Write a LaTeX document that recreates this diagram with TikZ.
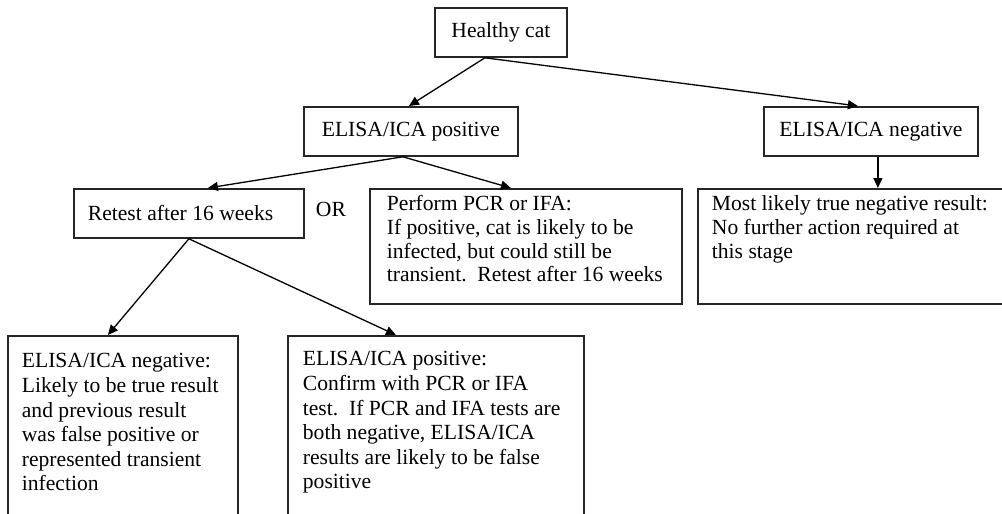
\documentclass[tikz,border=0pt]{standalone}
\usepackage{fontspec}
\setmainfont{Liberation Serif}
\usetikzlibrary{arrows.meta}

\begin{document}
\begin{tikzpicture}[x=.5pt,y=-.5pt,>={Triangle[length=5pt,width=4.5pt]},line width=.65pt,
  font=\fontsize{10.8}{11.8}\selectfont,
  box/.style={draw=black!85,line width=.9pt,anchor=north west,inner ysep=0pt},
  single/.style={box,minimum height=24.5pt,inner xsep=0pt,align=center},
  multi/.style={box,align=flush left},
  loose/.style={font=\fontsize{10.8}{12.3}\selectfont}]
  \useasboundingbox (0,0) rectangle (1002,514);
  \clip (0,0) rectangle (1002,514);
  % top of the tree
  \node[single,minimum width=66pt] (cat) at (434,7) {Healthy cat};
  \node[single,minimum width=107pt] (pos) at (303,106) {ELISA/ICA positive};
  \node[single,minimum width=107pt] (neg) at (763,106) {ELISA/ICA negative};
  % second row
  \node[multi,inner xsep=7pt,text width=101pt,minimum height=24.5pt] (retest) at (73,188) {Retest after 16 weeks};
  \node (or) at (331,209) {OR};
  \node[multi,inner xsep=8.5pt,text width=139pt,text height=11pt,text depth=46.5pt] (pcr) at (369,188)
    {Perform PCR or IFA:\\ If positive, cat is likely to be\\ infected, but could still be\\ transient.\ \ Retest after 16 weeks};
  \node[multi,inner xsep=7pt,text width=138.5pt,text height=11pt,text depth=46.5pt] (most) at (697,188)
    {Most likely true negative result:\\ No further action required at\\ this stage};
  % bottom row
  \node[multi,loose,inner xsep=7pt,text width=101pt,text height=16pt,text depth=84pt] (bneg) at (7,335)
    {ELISA/ICA negative:\\ Likely to be true result\\ and previous result\\ was false positive or\\ represented transient\\ infection};
  \node[multi,loose,inner xsep=7.5pt,text width=133pt,text height=15pt,text depth=85pt] (bpos) at (287,335)
    {ELISA/ICA positive:\\ Confirm with PCR or IFA\\ test.\ \ If PCR and IFA tests are\\ both negative, ELISA/ICA\\ results are likely to be false\\ positive};
  % connectors
  \draw[->] ([xshift=-8pt]cat.south) -- ([xshift=-1pt]pos.north);
  \draw[->] ([xshift=-8pt]cat.south) -- ([xshift=-6.5pt]neg.north);
  \draw[->] ([xshift=-4pt]pos.south) -- ([xshift=9.5pt]retest.north);
  \draw[->] ([xshift=-4pt]pos.south) -- ([xshift=-7.5pt]pcr.north);
  \draw[->] ([xshift=3.5pt]neg.south) -- ([xshift=3.5pt]neg.south |- most.north);
  \draw[->] (retest.south) -- ([xshift=-7.5pt]bneg.north);
  \draw[->] (retest.south) -- ([xshift=-20pt]bpos.north);
\end{tikzpicture}
\end{document}
